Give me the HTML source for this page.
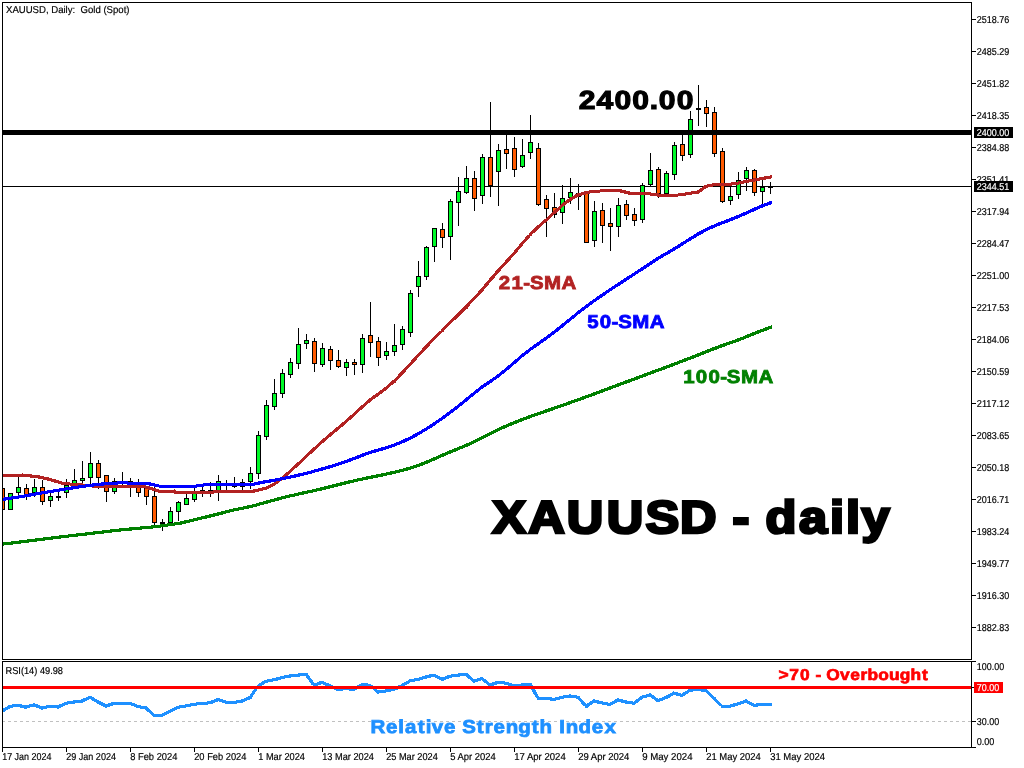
<!DOCTYPE html>
<html lang="en"><head><meta charset="utf-8"><title>XAUUSD, Daily: Gold (Spot)</title>
<style>
html,body{margin:0;padding:0;background:#fff;}
body{width:1024px;height:768px;overflow:hidden;position:relative;font-family:"Liberation Sans",sans-serif;}
svg{position:absolute;left:0;top:0;display:block;}
.ax{font-family:"Liberation Sans",sans-serif;font-size:10px;stroke-width:0.18px;text-rendering:geometricPrecision;}
</style></head><body>
<svg width="1024" height="768" viewBox="0 0 1024 768">
<rect x="0" y="0" width="1024" height="768" fill="#fff"/>
<defs><clipPath id="cm"><rect x="3" y="3" width="968" height="656"/></clipPath><clipPath id="cr"><rect x="3" y="662" width="968" height="85"/></clipPath></defs>
<rect x="3" y="186" width="968" height="1" fill="#000" shape-rendering="crispEdges"/>
<g shape-rendering="crispEdges" clip-path="url(#cm)">
<rect x="2" y="488" width="1" height="22" fill="#000"/>
<rect x="0" y="488" width="5" height="22" fill="#000"/>
<rect x="1" y="489" width="3" height="20" fill="#ff5a00"/>
<rect x="10" y="493" width="1" height="17" fill="#000"/>
<rect x="8" y="493" width="5" height="17" fill="#000"/>
<rect x="9" y="494" width="3" height="15" fill="#00fa28"/>
<rect x="18" y="477" width="1" height="18" fill="#000"/>
<rect x="16" y="487" width="5" height="6" fill="#000"/>
<rect x="17" y="488" width="3" height="4" fill="#00fa28"/>
<rect x="26" y="484" width="1" height="16" fill="#000"/>
<rect x="24" y="488" width="5" height="8" fill="#000"/>
<rect x="25" y="489" width="3" height="6" fill="#ff5a00"/>
<rect x="34" y="479" width="1" height="18" fill="#000"/>
<rect x="32" y="487" width="5" height="6" fill="#000"/>
<rect x="33" y="488" width="3" height="4" fill="#00fa28"/>
<rect x="42" y="480" width="1" height="25" fill="#000"/>
<rect x="40" y="487" width="5" height="15" fill="#000"/>
<rect x="41" y="488" width="3" height="13" fill="#ff5a00"/>
<rect x="50" y="492" width="1" height="15" fill="#000"/>
<rect x="48" y="496" width="5" height="5" fill="#000"/>
<rect x="49" y="497" width="3" height="3" fill="#00fa28"/>
<rect x="58" y="491" width="1" height="10" fill="#000"/>
<rect x="56" y="496" width="5" height="2" fill="#000"/>
<rect x="66" y="479" width="1" height="19" fill="#000"/>
<rect x="64" y="485" width="5" height="8" fill="#000"/>
<rect x="65" y="486" width="3" height="6" fill="#00fa28"/>
<rect x="74" y="469" width="1" height="17" fill="#000"/>
<rect x="72" y="480" width="5" height="6" fill="#000"/>
<rect x="73" y="481" width="3" height="4" fill="#00fa28"/>
<rect x="82" y="461" width="1" height="24" fill="#000"/>
<rect x="80" y="478" width="5" height="3" fill="#000"/>
<rect x="81" y="479" width="3" height="1" fill="#00fa28"/>
<rect x="90" y="452" width="1" height="32" fill="#000"/>
<rect x="88" y="463" width="5" height="15" fill="#000"/>
<rect x="89" y="464" width="3" height="13" fill="#00fa28"/>
<rect x="98" y="460" width="1" height="29" fill="#000"/>
<rect x="96" y="463" width="5" height="15" fill="#000"/>
<rect x="97" y="464" width="3" height="13" fill="#ff5a00"/>
<rect x="106" y="475" width="1" height="27" fill="#000"/>
<rect x="104" y="475" width="5" height="17" fill="#000"/>
<rect x="105" y="476" width="3" height="15" fill="#ff5a00"/>
<rect x="114" y="478" width="1" height="16" fill="#000"/>
<rect x="112" y="481" width="5" height="11" fill="#000"/>
<rect x="113" y="482" width="3" height="9" fill="#00fa28"/>
<rect x="122" y="472" width="1" height="15" fill="#000"/>
<rect x="120" y="482" width="5" height="2" fill="#000"/>
<rect x="130" y="478" width="1" height="19" fill="#000"/>
<rect x="128" y="481" width="5" height="3" fill="#000"/>
<rect x="129" y="482" width="3" height="1" fill="#ff5a00"/>
<rect x="138" y="479" width="1" height="18" fill="#000"/>
<rect x="136" y="485" width="5" height="8" fill="#000"/>
<rect x="137" y="486" width="3" height="6" fill="#ff5a00"/>
<rect x="146" y="486" width="1" height="19" fill="#000"/>
<rect x="144" y="488" width="5" height="9" fill="#000"/>
<rect x="145" y="489" width="3" height="7" fill="#ff5a00"/>
<rect x="154" y="487" width="1" height="38" fill="#000"/>
<rect x="152" y="496" width="5" height="27" fill="#000"/>
<rect x="153" y="497" width="3" height="25" fill="#ff5a00"/>
<rect x="162" y="519" width="1" height="12" fill="#000"/>
<rect x="160" y="522" width="5" height="2" fill="#000"/>
<rect x="170" y="507" width="1" height="16" fill="#000"/>
<rect x="168" y="511" width="5" height="12" fill="#000"/>
<rect x="169" y="512" width="3" height="10" fill="#00fa28"/>
<rect x="178" y="501" width="1" height="20" fill="#000"/>
<rect x="176" y="502" width="5" height="10" fill="#000"/>
<rect x="177" y="503" width="3" height="8" fill="#00fa28"/>
<rect x="186" y="494" width="1" height="11" fill="#000"/>
<rect x="184" y="498" width="5" height="7" fill="#000"/>
<rect x="185" y="499" width="3" height="5" fill="#00fa28"/>
<rect x="194" y="488" width="1" height="14" fill="#000"/>
<rect x="192" y="493" width="5" height="7" fill="#000"/>
<rect x="193" y="494" width="3" height="5" fill="#00fa28"/>
<rect x="202" y="487" width="1" height="10" fill="#000"/>
<rect x="200" y="490" width="5" height="2" fill="#000"/>
<rect x="210" y="482" width="1" height="15" fill="#000"/>
<rect x="208" y="490" width="5" height="2" fill="#000"/>
<rect x="218" y="475" width="1" height="26" fill="#000"/>
<rect x="216" y="481" width="5" height="10" fill="#000"/>
<rect x="217" y="482" width="3" height="8" fill="#00fa28"/>
<rect x="226" y="480" width="1" height="10" fill="#000"/>
<rect x="224" y="484" width="5" height="2" fill="#000"/>
<rect x="234" y="477" width="1" height="11" fill="#000"/>
<rect x="232" y="485" width="5" height="2" fill="#000"/>
<rect x="242" y="479" width="1" height="11" fill="#000"/>
<rect x="240" y="482" width="5" height="5" fill="#000"/>
<rect x="241" y="483" width="3" height="3" fill="#00fa28"/>
<rect x="250" y="467" width="1" height="22" fill="#000"/>
<rect x="248" y="473" width="5" height="9" fill="#000"/>
<rect x="249" y="474" width="3" height="7" fill="#00fa28"/>
<rect x="258" y="431" width="1" height="48" fill="#000"/>
<rect x="256" y="435" width="5" height="39" fill="#000"/>
<rect x="257" y="436" width="3" height="37" fill="#00fa28"/>
<rect x="266" y="400" width="1" height="40" fill="#000"/>
<rect x="264" y="405" width="5" height="32" fill="#000"/>
<rect x="265" y="406" width="3" height="30" fill="#00fa28"/>
<rect x="274" y="379" width="1" height="31" fill="#000"/>
<rect x="272" y="393" width="5" height="14" fill="#000"/>
<rect x="273" y="394" width="3" height="12" fill="#00fa28"/>
<rect x="282" y="369" width="1" height="29" fill="#000"/>
<rect x="280" y="373" width="5" height="21" fill="#000"/>
<rect x="281" y="374" width="3" height="19" fill="#00fa28"/>
<rect x="290" y="358" width="1" height="20" fill="#000"/>
<rect x="288" y="362" width="5" height="13" fill="#000"/>
<rect x="289" y="363" width="3" height="11" fill="#00fa28"/>
<rect x="298" y="328" width="1" height="41" fill="#000"/>
<rect x="296" y="344" width="5" height="20" fill="#000"/>
<rect x="297" y="345" width="3" height="18" fill="#00fa28"/>
<rect x="306" y="334" width="1" height="15" fill="#000"/>
<rect x="304" y="340" width="5" height="4" fill="#000"/>
<rect x="305" y="341" width="3" height="2" fill="#00fa28"/>
<rect x="314" y="338" width="1" height="34" fill="#000"/>
<rect x="312" y="341" width="5" height="23" fill="#000"/>
<rect x="313" y="342" width="3" height="21" fill="#ff5a00"/>
<rect x="322" y="343" width="1" height="24" fill="#000"/>
<rect x="320" y="348" width="5" height="17" fill="#000"/>
<rect x="321" y="349" width="3" height="15" fill="#00fa28"/>
<rect x="330" y="346" width="1" height="24" fill="#000"/>
<rect x="328" y="349" width="5" height="12" fill="#000"/>
<rect x="329" y="350" width="3" height="10" fill="#ff5a00"/>
<rect x="338" y="350" width="1" height="18" fill="#000"/>
<rect x="336" y="360" width="5" height="7" fill="#000"/>
<rect x="337" y="361" width="3" height="5" fill="#ff5a00"/>
<rect x="346" y="359" width="1" height="17" fill="#000"/>
<rect x="344" y="362" width="5" height="6" fill="#000"/>
<rect x="345" y="363" width="3" height="4" fill="#00fa28"/>
<rect x="354" y="359" width="1" height="16" fill="#000"/>
<rect x="352" y="362" width="5" height="3" fill="#000"/>
<rect x="353" y="363" width="3" height="1" fill="#ff5a00"/>
<rect x="362" y="334" width="1" height="39" fill="#000"/>
<rect x="360" y="338" width="5" height="27" fill="#000"/>
<rect x="361" y="339" width="3" height="25" fill="#00fa28"/>
<rect x="370" y="302" width="1" height="55" fill="#000"/>
<rect x="368" y="335" width="5" height="8" fill="#000"/>
<rect x="369" y="336" width="3" height="6" fill="#ff5a00"/>
<rect x="378" y="337" width="1" height="29" fill="#000"/>
<rect x="376" y="341" width="5" height="17" fill="#000"/>
<rect x="377" y="342" width="3" height="15" fill="#ff5a00"/>
<rect x="386" y="342" width="1" height="18" fill="#000"/>
<rect x="384" y="351" width="5" height="5" fill="#000"/>
<rect x="385" y="352" width="3" height="3" fill="#00fa28"/>
<rect x="394" y="324" width="1" height="32" fill="#000"/>
<rect x="392" y="345" width="5" height="7" fill="#000"/>
<rect x="393" y="346" width="3" height="5" fill="#00fa28"/>
<rect x="402" y="326" width="1" height="24" fill="#000"/>
<rect x="400" y="329" width="5" height="16" fill="#000"/>
<rect x="401" y="330" width="3" height="14" fill="#00fa28"/>
<rect x="410" y="290" width="1" height="47" fill="#000"/>
<rect x="408" y="293" width="5" height="40" fill="#000"/>
<rect x="409" y="294" width="3" height="38" fill="#00fa28"/>
<rect x="418" y="261" width="1" height="36" fill="#000"/>
<rect x="416" y="276" width="5" height="11" fill="#000"/>
<rect x="417" y="277" width="3" height="9" fill="#00fa28"/>
<rect x="426" y="246" width="1" height="34" fill="#000"/>
<rect x="424" y="247" width="5" height="30" fill="#000"/>
<rect x="425" y="248" width="3" height="28" fill="#00fa28"/>
<rect x="434" y="228" width="1" height="34" fill="#000"/>
<rect x="432" y="228" width="5" height="19" fill="#000"/>
<rect x="433" y="229" width="3" height="17" fill="#00fa28"/>
<rect x="442" y="223" width="1" height="25" fill="#000"/>
<rect x="440" y="229" width="5" height="9" fill="#000"/>
<rect x="441" y="230" width="3" height="7" fill="#ff5a00"/>
<rect x="450" y="199" width="1" height="61" fill="#000"/>
<rect x="448" y="201" width="5" height="36" fill="#000"/>
<rect x="449" y="202" width="3" height="34" fill="#00fa28"/>
<rect x="458" y="177" width="1" height="49" fill="#000"/>
<rect x="456" y="191" width="5" height="12" fill="#000"/>
<rect x="457" y="192" width="3" height="10" fill="#00fa28"/>
<rect x="466" y="166" width="1" height="28" fill="#000"/>
<rect x="464" y="178" width="5" height="15" fill="#000"/>
<rect x="465" y="179" width="3" height="13" fill="#00fa28"/>
<rect x="474" y="171" width="1" height="40" fill="#000"/>
<rect x="472" y="178" width="5" height="21" fill="#000"/>
<rect x="473" y="179" width="3" height="19" fill="#ff5a00"/>
<rect x="482" y="154" width="1" height="50" fill="#000"/>
<rect x="480" y="157" width="5" height="39" fill="#000"/>
<rect x="481" y="158" width="3" height="37" fill="#00fa28"/>
<rect x="490" y="102" width="1" height="95" fill="#000"/>
<rect x="488" y="157" width="5" height="29" fill="#000"/>
<rect x="489" y="158" width="3" height="27" fill="#ff5a00"/>
<rect x="498" y="144" width="1" height="62" fill="#000"/>
<rect x="496" y="150" width="5" height="22" fill="#000"/>
<rect x="497" y="151" width="3" height="20" fill="#00fa28"/>
<rect x="506" y="131" width="1" height="38" fill="#000"/>
<rect x="504" y="149" width="5" height="5" fill="#000"/>
<rect x="505" y="150" width="3" height="3" fill="#ff5a00"/>
<rect x="514" y="137" width="1" height="40" fill="#000"/>
<rect x="512" y="148" width="5" height="22" fill="#000"/>
<rect x="513" y="149" width="3" height="20" fill="#ff5a00"/>
<rect x="522" y="139" width="1" height="29" fill="#000"/>
<rect x="520" y="155" width="5" height="12" fill="#000"/>
<rect x="521" y="156" width="3" height="10" fill="#00fa28"/>
<rect x="530" y="115" width="1" height="44" fill="#000"/>
<rect x="528" y="142" width="5" height="11" fill="#000"/>
<rect x="529" y="143" width="3" height="9" fill="#00fa28"/>
<rect x="538" y="143" width="1" height="63" fill="#000"/>
<rect x="536" y="148" width="5" height="57" fill="#000"/>
<rect x="537" y="149" width="3" height="55" fill="#ff5a00"/>
<rect x="546" y="195" width="1" height="42" fill="#000"/>
<rect x="544" y="199" width="5" height="10" fill="#000"/>
<rect x="545" y="200" width="3" height="8" fill="#ff5a00"/>
<rect x="554" y="193" width="1" height="25" fill="#000"/>
<rect x="552" y="207" width="5" height="8" fill="#000"/>
<rect x="553" y="208" width="3" height="6" fill="#ff5a00"/>
<rect x="562" y="185" width="1" height="39" fill="#000"/>
<rect x="560" y="198" width="5" height="15" fill="#000"/>
<rect x="561" y="199" width="3" height="13" fill="#00fa28"/>
<rect x="570" y="178" width="1" height="26" fill="#000"/>
<rect x="568" y="192" width="5" height="6" fill="#000"/>
<rect x="569" y="193" width="3" height="4" fill="#00fa28"/>
<rect x="578" y="184" width="1" height="26" fill="#000"/>
<rect x="576" y="193" width="5" height="4" fill="#000"/>
<rect x="577" y="194" width="3" height="2" fill="#ff5a00"/>
<rect x="586" y="192" width="1" height="51" fill="#000"/>
<rect x="584" y="192" width="5" height="51" fill="#000"/>
<rect x="585" y="193" width="3" height="49" fill="#ff5a00"/>
<rect x="594" y="201" width="1" height="46" fill="#000"/>
<rect x="592" y="211" width="5" height="30" fill="#000"/>
<rect x="593" y="212" width="3" height="28" fill="#00fa28"/>
<rect x="602" y="203" width="1" height="40" fill="#000"/>
<rect x="600" y="210" width="5" height="16" fill="#000"/>
<rect x="601" y="211" width="3" height="14" fill="#ff5a00"/>
<rect x="610" y="208" width="1" height="43" fill="#000"/>
<rect x="608" y="223" width="5" height="4" fill="#000"/>
<rect x="609" y="224" width="3" height="2" fill="#ff5a00"/>
<rect x="618" y="198" width="1" height="39" fill="#000"/>
<rect x="616" y="205" width="5" height="22" fill="#000"/>
<rect x="617" y="206" width="3" height="20" fill="#00fa28"/>
<rect x="626" y="200" width="1" height="20" fill="#000"/>
<rect x="624" y="204" width="5" height="12" fill="#000"/>
<rect x="625" y="205" width="3" height="10" fill="#ff5a00"/>
<rect x="634" y="208" width="1" height="18" fill="#000"/>
<rect x="632" y="214" width="5" height="7" fill="#000"/>
<rect x="633" y="215" width="3" height="5" fill="#ff5a00"/>
<rect x="642" y="183" width="1" height="40" fill="#000"/>
<rect x="640" y="185" width="5" height="35" fill="#000"/>
<rect x="641" y="186" width="3" height="33" fill="#00fa28"/>
<rect x="650" y="153" width="1" height="33" fill="#000"/>
<rect x="648" y="170" width="5" height="15" fill="#000"/>
<rect x="649" y="171" width="3" height="13" fill="#00fa28"/>
<rect x="658" y="167" width="1" height="31" fill="#000"/>
<rect x="656" y="169" width="5" height="25" fill="#000"/>
<rect x="657" y="170" width="3" height="23" fill="#ff5a00"/>
<rect x="666" y="171" width="1" height="23" fill="#000"/>
<rect x="664" y="173" width="5" height="21" fill="#000"/>
<rect x="665" y="174" width="3" height="19" fill="#00fa28"/>
<rect x="674" y="142" width="1" height="38" fill="#000"/>
<rect x="672" y="145" width="5" height="30" fill="#000"/>
<rect x="673" y="146" width="3" height="28" fill="#00fa28"/>
<rect x="682" y="131" width="1" height="30" fill="#000"/>
<rect x="680" y="144" width="5" height="12" fill="#000"/>
<rect x="681" y="145" width="3" height="10" fill="#ff5a00"/>
<rect x="690" y="111" width="1" height="47" fill="#000"/>
<rect x="688" y="119" width="5" height="36" fill="#000"/>
<rect x="689" y="120" width="3" height="34" fill="#00fa28"/>
<rect x="698" y="85" width="1" height="41" fill="#000"/>
<rect x="696" y="108" width="5" height="2" fill="#000"/>
<rect x="706" y="100" width="1" height="27" fill="#000"/>
<rect x="704" y="107" width="5" height="7" fill="#000"/>
<rect x="705" y="108" width="3" height="5" fill="#ff5a00"/>
<rect x="714" y="107" width="1" height="50" fill="#000"/>
<rect x="712" y="112" width="5" height="42" fill="#000"/>
<rect x="713" y="113" width="3" height="40" fill="#ff5a00"/>
<rect x="722" y="148" width="1" height="55" fill="#000"/>
<rect x="720" y="151" width="5" height="51" fill="#000"/>
<rect x="721" y="152" width="3" height="49" fill="#ff5a00"/>
<rect x="730" y="185" width="1" height="20" fill="#000"/>
<rect x="728" y="196" width="5" height="5" fill="#000"/>
<rect x="729" y="197" width="3" height="3" fill="#00fa28"/>
<rect x="738" y="172" width="1" height="27" fill="#000"/>
<rect x="736" y="180" width="5" height="15" fill="#000"/>
<rect x="737" y="181" width="3" height="13" fill="#00fa28"/>
<rect x="746" y="167" width="1" height="24" fill="#000"/>
<rect x="744" y="170" width="5" height="9" fill="#000"/>
<rect x="745" y="171" width="3" height="7" fill="#00fa28"/>
<rect x="754" y="169" width="1" height="27" fill="#000"/>
<rect x="752" y="170" width="5" height="23" fill="#000"/>
<rect x="753" y="171" width="3" height="21" fill="#ff5a00"/>
<rect x="762" y="180" width="1" height="25" fill="#000"/>
<rect x="760" y="187" width="5" height="5" fill="#000"/>
<rect x="761" y="188" width="3" height="3" fill="#00fa28"/>
<rect x="770" y="182" width="1" height="12" fill="#000"/>
<rect x="768" y="186" width="5" height="2" fill="#000"/>
</g>
<path d="M3.0,473.5L22.0,473.5L22.0,476.5L3.0,476.5ZM22.0,473.4L30.0,474.3L30.0,477.5L22.0,476.6ZM30.0,474.3L39.0,475.4L39.0,478.6L30.0,477.5ZM39.0,475.4L47.0,477.1L47.0,480.3L39.0,478.6ZM47.0,477.0L55.0,479.3L55.0,482.7L47.0,480.4ZM55.0,479.3L62.5,481.5L62.5,484.9L55.0,482.7ZM62.5,481.6L68.0,482.3L68.0,485.5L62.5,484.8ZM68.0,482.4L78.0,483.1L78.0,486.1L68.0,485.4ZM78.0,483.0L95.0,484.6L95.0,487.8L78.0,486.2ZM95.0,484.7L120.0,484.8L120.0,487.8L95.0,487.7ZM120.0,484.8L143.5,484.8L143.5,487.8L120.0,487.8ZM143.5,484.6L159.0,489.3L159.0,492.7L143.5,488.0ZM159.0,489.5L174.0,489.5L174.0,492.5L159.0,492.5ZM174.0,488.9L175.5,490.2L175.5,494.4L174.0,493.1ZM175.5,490.8L212.0,490.8L212.0,493.8L175.5,493.8ZM212.0,490.7L216.0,489.9L216.0,493.1L212.0,493.9ZM216.0,490.0L232.0,489.9L232.0,492.9L216.0,493.0ZM232.0,489.9L252.0,489.9L252.0,492.9L232.0,492.9ZM252.0,489.8L258.0,488.4L258.0,491.7L252.0,493.1ZM258.0,488.4L266.0,486.5L266.0,489.8L258.0,491.7ZM266.0,486.3L274.0,482.3L274.0,485.9L266.0,490.0ZM274.0,482.1L282.0,476.3L282.0,480.3L274.0,486.1ZM282.0,476.2L290.0,469.4L290.0,473.5L282.0,480.4ZM290.0,469.4L298.0,462.0L298.0,466.2L290.0,473.5ZM298.0,462.0L306.0,454.5L306.0,458.7L298.0,466.2ZM306.0,454.5L314.0,447.0L314.0,451.2L306.0,458.7ZM314.0,447.0L322.0,439.8L322.0,443.9L314.0,451.2ZM322.0,439.8L330.0,432.9L330.0,437.0L322.0,443.9ZM330.0,432.9L338.0,426.2L338.0,430.3L330.0,437.0ZM338.0,426.2L346.0,419.5L346.0,423.6L338.0,430.3ZM346.0,419.5L354.0,412.4L354.0,416.5L346.0,423.6ZM354.0,412.4L362.0,404.9L362.0,409.1L354.0,416.6ZM362.0,405.0L370.0,398.0L370.0,402.1L362.0,409.1ZM370.0,398.1L378.0,392.2L378.0,396.2L370.0,402.1ZM378.0,392.2L386.0,386.3L386.0,390.2L378.0,396.2ZM386.0,386.2L394.0,379.1L394.0,383.3L386.0,390.3ZM391.9,381.2L399.9,373.1L404.1,373.1L396.1,381.2ZM399.9,373.1L407.9,364.4L412.1,364.4L404.1,373.1ZM407.9,364.4L415.9,355.6L420.1,355.6L412.1,364.4ZM415.9,355.6L423.9,347.0L428.1,347.0L420.1,355.6ZM423.9,347.0L431.9,338.7L436.1,338.7L428.1,347.0ZM431.9,338.7L439.9,330.7L444.1,330.7L436.1,338.7ZM442.0,328.5L450.0,320.6L450.0,324.9L442.0,332.8ZM450.0,320.6L458.0,312.8L458.0,317.1L450.0,324.9ZM458.0,312.8L466.0,304.8L466.0,309.1L458.0,317.1ZM463.9,307.0L471.9,298.7L476.1,298.7L468.1,307.0ZM471.9,298.7L479.9,289.9L484.1,289.9L476.1,298.7ZM479.9,289.9L487.9,280.4L492.1,280.4L484.1,289.9ZM487.9,280.4L495.9,271.0L500.1,271.0L492.1,280.4ZM495.9,271.0L503.9,262.2L508.1,262.2L500.1,271.0ZM503.9,262.2L511.9,253.3L516.1,253.3L508.1,262.2ZM512.0,253.3L520.0,243.8L524.0,243.8L516.0,253.3ZM519.9,243.8L527.9,234.7L532.1,234.7L524.1,243.8ZM530.0,232.6L538.0,225.0L538.0,229.2L530.0,236.8ZM538.0,225.1L546.0,218.1L546.0,222.2L538.0,229.2ZM546.0,218.0L554.0,210.7L554.0,214.9L546.0,222.2ZM554.0,210.7L562.0,203.6L562.0,207.7L554.0,214.9ZM562.0,203.6L570.0,197.5L570.0,201.5L562.0,207.6ZM570.0,197.6L578.0,193.1L578.0,196.9L570.0,201.4ZM578.0,193.3L584.0,191.6L584.0,194.9L578.0,196.7ZM584.0,191.6L592.0,189.9L592.0,193.1L584.0,194.9ZM592.0,190.0L608.0,189.0L608.0,192.0L592.0,193.0ZM608.0,189.0L620.0,189.2L620.0,192.3L608.0,192.0ZM620.0,189.1L630.0,191.6L630.0,194.9L620.0,192.4ZM630.0,191.7L650.0,192.5L650.0,195.5L630.0,194.8ZM650.0,192.4L664.0,194.2L664.0,197.3L650.0,195.6ZM664.0,194.2L672.0,194.2L672.0,197.2L664.0,197.2ZM672.0,194.2L684.0,192.7L684.0,195.8L672.0,197.3ZM684.0,192.6L698.0,190.4L698.0,193.6L684.0,195.9ZM698.0,190.0L706.0,184.4L706.0,188.4L698.0,194.0ZM706.0,184.8L714.0,183.1L714.0,186.4L706.0,188.0ZM714.0,183.2L734.0,182.4L734.0,185.4L714.0,186.3ZM734.0,182.3L746.0,179.8L746.0,183.0L734.0,185.5ZM746.0,179.8L758.0,177.6L758.0,180.9L746.0,183.0ZM758.0,177.6L772.0,175.1L772.0,178.3L758.0,180.9ZM392.5,379.7L395.5,379.7L395.5,382.7L392.5,382.7ZM440.5,329.2L443.5,329.2L443.5,332.2L440.5,332.2ZM464.5,305.5L467.5,305.5L467.5,308.5L464.5,308.5ZM528.5,233.2L531.5,233.2L531.5,236.2L528.5,236.2Z" fill="#b22222" fill-rule="nonzero" shape-rendering="crispEdges" />
<path d="M3.0,497.7L20.0,495.2L20.0,498.4L3.0,500.9ZM20.0,495.2L40.0,491.6L40.0,494.8L20.0,498.4ZM40.0,491.6L64.0,487.6L64.0,490.8L40.0,494.8ZM64.0,487.6L90.0,483.7L90.0,486.9L64.0,490.8ZM90.0,483.7L100.0,482.6L100.0,485.8L90.0,486.9ZM100.0,482.6L110.8,481.7L110.8,484.9L100.0,485.8ZM110.8,481.8L117.0,481.8L117.0,484.8L110.8,484.8ZM117.0,481.5L119.0,480.7L119.0,484.2L117.0,485.1ZM119.0,480.9L126.5,480.9L126.5,483.9L119.0,483.9ZM126.5,480.7L128.5,481.6L128.5,485.1L126.5,484.2ZM128.5,481.9L147.0,481.9L147.0,484.9L128.5,484.9ZM147.0,481.7L159.0,484.4L159.0,487.6L147.0,485.0ZM159.0,484.5L196.0,484.5L196.0,487.5L159.0,487.5ZM196.0,484.4L207.0,482.9L207.0,486.1L196.0,487.6ZM207.0,483.0L232.0,483.0L232.0,486.0L207.0,486.0ZM232.0,483.0L254.0,482.5L254.0,485.6L232.0,486.0ZM254.0,482.4L266.0,480.0L266.0,483.3L254.0,485.7ZM266.0,480.1L274.0,478.7L274.0,481.9L266.0,483.3ZM274.0,478.7L282.0,477.2L282.0,480.4L274.0,482.0ZM282.0,477.2L290.0,475.5L290.0,478.8L282.0,480.4ZM290.0,475.5L298.0,473.7L298.0,477.0L290.0,478.8ZM298.0,473.6L306.0,471.7L306.0,475.0L298.0,477.0ZM306.0,471.7L314.0,469.6L314.0,472.9L306.0,475.0ZM314.0,469.6L322.0,467.3L322.0,470.7L314.0,472.9ZM322.0,467.3L330.0,465.0L330.0,468.4L322.0,470.7ZM330.0,465.0L338.0,462.5L338.0,465.9L330.0,468.4ZM338.0,462.5L346.0,459.8L346.0,463.2L338.0,465.9ZM346.0,459.7L354.0,456.8L354.0,460.3L346.0,463.2ZM354.0,456.8L362.0,453.6L362.0,457.2L354.0,460.3ZM362.0,453.7L370.0,450.7L370.0,454.2L362.0,457.1ZM370.0,450.8L378.0,448.4L378.0,451.8L370.0,454.2ZM378.0,448.4L386.0,446.2L386.0,449.5L378.0,451.8ZM386.0,446.1L394.0,443.4L394.0,446.9L386.0,449.6ZM394.0,443.4L402.0,440.2L402.0,443.7L394.0,446.9ZM402.0,440.1L410.0,436.4L410.0,440.0L402.0,443.7ZM410.0,436.3L418.0,432.1L418.0,435.8L410.0,440.0ZM418.0,432.0L426.0,427.3L426.0,431.0L418.0,435.8ZM426.0,427.2L434.0,422.1L434.0,425.9L426.0,431.1ZM434.0,422.0L442.0,416.5L442.0,420.4L434.0,425.9ZM442.0,416.4L450.0,410.6L450.0,414.5L442.0,420.4ZM450.0,410.5L458.0,404.4L458.0,408.4L450.0,414.5ZM458.0,404.4L466.0,397.9L466.0,402.0L458.0,408.4ZM466.0,397.9L474.0,391.3L474.0,395.4L466.0,402.0ZM474.0,391.3L482.0,385.1L482.0,389.1L474.0,395.3ZM482.0,385.1L490.0,379.7L490.0,383.5L482.0,389.0ZM490.0,379.7L498.0,374.1L498.0,378.0L490.0,383.6ZM498.0,374.1L506.0,367.7L506.0,371.7L498.0,378.1ZM506.0,367.6L514.0,360.7L514.0,364.8L506.0,371.7ZM514.0,360.7L522.0,353.9L522.0,358.0L514.0,364.8ZM522.0,353.9L530.0,347.6L530.0,351.6L522.0,357.9ZM530.0,347.6L538.0,341.9L538.0,345.9L530.0,351.5ZM538.0,341.9L546.0,336.4L546.0,340.3L538.0,345.9ZM546.0,336.4L554.0,330.3L554.0,334.3L546.0,340.3ZM554.0,330.3L562.0,323.9L562.0,328.0L554.0,334.3ZM562.0,323.9L570.0,317.4L570.0,321.4L562.0,328.0ZM570.0,317.4L578.0,310.9L578.0,315.0L570.0,321.4ZM578.0,310.9L586.0,304.8L586.0,308.8L578.0,314.9ZM586.0,304.8L594.0,298.9L594.0,302.9L586.0,308.7ZM594.0,298.9L602.0,293.3L602.0,297.2L594.0,302.8ZM602.0,293.3L610.0,287.9L610.0,291.8L602.0,297.2ZM610.0,287.9L618.0,282.6L618.0,286.5L610.0,291.7ZM618.0,282.6L626.0,277.4L626.0,281.3L618.0,286.5ZM626.0,277.4L634.0,272.3L634.0,276.1L626.0,281.3ZM634.0,272.2L642.0,267.0L642.0,270.8L634.0,276.1ZM642.0,267.0L650.0,261.7L650.0,265.5L642.0,270.9ZM650.0,261.7L658.0,256.5L658.0,260.4L650.0,265.5ZM658.0,256.6L666.0,251.8L666.0,255.6L658.0,260.3ZM666.0,251.8L674.0,247.2L674.0,250.9L666.0,255.6ZM674.0,247.1L682.0,242.2L682.0,246.0L674.0,250.9ZM682.0,242.2L690.0,237.1L690.0,240.9L682.0,246.0ZM690.0,237.1L698.0,232.2L698.0,236.0L690.0,240.9ZM698.0,232.3L706.0,227.9L706.0,231.6L698.0,236.0ZM706.0,227.9L714.0,224.3L714.0,227.9L706.0,231.5ZM714.0,224.3L722.0,221.1L722.0,224.6L714.0,227.8ZM722.0,221.1L730.0,218.1L730.0,221.6L722.0,224.6ZM730.0,218.1L738.0,214.9L738.0,218.4L730.0,221.6ZM738.0,214.9L746.0,211.3L746.0,214.9L738.0,218.4ZM746.0,211.3L754.0,207.7L754.0,211.3L746.0,214.9ZM754.0,207.7L762.0,204.2L762.0,207.8L754.0,211.2ZM762.0,204.3L770.0,201.3L770.0,204.8L762.0,207.7ZM770.0,201.4L772.0,200.8L772.0,204.2L770.0,204.8Z" fill="#0000ff" fill-rule="nonzero" shape-rendering="crispEdges" />
<path d="M3.0,542.5L60.0,535.4L60.0,538.6L3.0,545.7ZM60.0,535.4L120.0,528.4L120.0,531.6L60.0,538.6ZM120.0,528.4L157.0,524.9L157.0,528.1L120.0,531.6ZM157.0,524.9L180.0,521.7L180.0,524.8L157.0,528.1ZM180.0,521.6L210.0,514.3L210.0,517.7L180.0,524.9ZM210.0,514.3L234.0,508.3L234.0,511.6L210.0,517.7ZM234.0,508.4L242.0,506.7L242.0,510.0L234.0,511.6ZM242.0,506.7L250.0,504.9L250.0,508.2L242.0,510.0ZM250.0,504.9L258.0,502.9L258.0,506.2L250.0,508.2ZM258.0,502.9L266.0,500.6L266.0,504.0L258.0,506.2ZM266.0,500.6L274.0,498.4L274.0,501.8L266.0,504.0ZM274.0,498.4L282.0,496.2L282.0,499.6L274.0,501.7ZM282.0,496.2L290.0,494.3L290.0,497.6L282.0,499.6ZM290.0,494.3L298.0,492.5L298.0,495.8L290.0,497.6ZM298.0,492.5L306.0,490.7L306.0,494.0L298.0,495.8ZM306.0,490.7L314.0,489.0L314.0,492.2L306.0,494.0ZM314.0,489.0L322.0,487.1L322.0,490.4L314.0,492.3ZM322.0,487.1L330.0,485.1L330.0,488.5L322.0,490.4ZM330.0,485.1L338.0,483.1L338.0,486.4L330.0,488.5ZM338.0,483.1L346.0,481.1L346.0,484.4L338.0,486.4ZM346.0,481.1L354.0,479.2L354.0,482.5L346.0,484.4ZM354.0,479.2L362.0,477.4L362.0,480.7L354.0,482.5ZM362.0,477.4L370.0,475.8L370.0,479.1L362.0,480.7ZM370.0,475.8L378.0,474.2L378.0,477.5L370.0,479.1ZM378.0,474.2L386.0,472.5L386.0,475.8L378.0,477.5ZM386.0,472.5L394.0,470.7L394.0,474.0L386.0,475.8ZM394.0,470.7L402.0,468.7L402.0,472.1L394.0,474.0ZM402.0,468.7L410.0,466.5L410.0,469.8L402.0,472.1ZM410.0,466.4L418.0,463.8L418.0,467.2L410.0,469.8ZM418.0,463.8L426.0,460.7L426.0,464.2L418.0,467.3ZM426.0,460.7L434.0,457.2L434.0,460.8L426.0,464.3ZM434.0,457.2L442.0,453.6L442.0,457.2L434.0,460.8ZM442.0,453.6L450.0,450.2L450.0,453.8L442.0,457.2ZM450.0,450.2L458.0,447.0L458.0,450.5L450.0,453.8ZM458.0,447.0L466.0,443.7L466.0,447.2L458.0,450.5ZM466.0,443.7L474.0,440.1L474.0,443.7L466.0,447.2ZM474.0,440.1L482.0,436.0L482.0,439.7L474.0,443.7ZM482.0,436.0L490.0,431.8L490.0,435.5L482.0,439.7ZM490.0,431.9L498.0,427.9L498.0,431.6L490.0,435.5ZM498.0,428.0L506.0,424.3L506.0,427.9L498.0,431.5ZM506.0,424.4L514.0,421.0L514.0,424.5L506.0,427.9ZM514.0,421.0L522.0,417.9L522.0,421.4L514.0,424.5ZM522.0,417.9L530.0,414.9L530.0,418.4L522.0,421.4ZM530.0,414.9L538.0,412.0L538.0,415.5L530.0,418.4ZM538.0,412.1L546.0,409.3L546.0,412.7L538.0,415.5ZM546.0,409.3L554.0,406.5L554.0,410.0L546.0,412.7ZM554.0,406.5L562.0,403.8L562.0,407.2L554.0,410.0ZM562.0,403.8L570.0,400.9L570.0,404.4L562.0,407.2ZM570.0,400.9L578.0,398.1L578.0,401.5L570.0,404.4ZM578.0,398.1L586.0,395.2L586.0,398.7L578.0,401.5ZM586.0,395.2L594.0,392.3L594.0,395.7L586.0,398.7ZM594.0,392.2L602.0,389.3L602.0,392.8L594.0,395.7ZM602.0,389.3L610.0,386.3L610.0,389.8L602.0,392.8ZM610.0,386.3L618.0,383.3L618.0,386.8L610.0,389.8ZM618.0,383.3L626.0,380.3L626.0,383.8L618.0,386.8ZM626.0,380.3L634.0,377.4L634.0,380.9L626.0,383.8ZM634.0,377.4L642.0,374.4L642.0,377.9L634.0,380.9ZM642.0,374.4L650.0,371.4L650.0,374.9L642.0,377.9ZM650.0,371.4L658.0,368.5L658.0,371.9L650.0,374.9ZM658.0,368.5L666.0,365.5L666.0,369.0L658.0,371.9ZM666.0,365.5L674.0,362.5L674.0,366.0L666.0,369.0ZM674.0,362.5L682.0,359.4L682.0,362.9L674.0,366.0ZM682.0,359.4L690.0,356.4L690.0,359.9L682.0,362.9ZM690.0,356.4L698.0,353.3L698.0,356.8L690.0,359.9ZM698.0,353.3L706.0,350.1L706.0,353.6L698.0,356.8ZM706.0,350.1L714.0,346.9L714.0,350.5L706.0,353.6ZM714.0,347.0L722.0,343.9L722.0,347.4L714.0,350.5ZM722.0,343.9L730.0,341.1L730.0,344.6L722.0,347.4ZM730.0,341.1L738.0,338.3L738.0,341.8L730.0,344.6ZM738.0,338.3L746.0,335.2L746.0,338.7L738.0,341.8ZM746.0,335.1L754.0,331.9L754.0,335.4L746.0,338.7ZM754.0,331.9L762.0,328.7L762.0,332.2L754.0,335.4ZM762.0,328.7L770.0,325.9L770.0,329.3L762.0,332.2ZM770.0,325.9L772.0,325.3L772.0,328.7L770.0,329.3Z" fill="#008000" fill-rule="nonzero" shape-rendering="crispEdges" />
<g shape-rendering="crispEdges">
<rect x="3" y="130" width="968" height="5" fill="#000"/>
</g>
<g shape-rendering="crispEdges">
<line x1="2" y1="721.5" x2="971" y2="721.5" stroke="#c0c0c0" stroke-width="1" stroke-dasharray="3 3"/>
</g>
<path d="M2.0,709.4L10.0,704.3L10.0,708.2L2.0,713.2ZM10.0,704.7L18.0,703.7L18.0,706.9L10.0,707.8ZM18.0,703.6L26.0,705.5L26.0,708.9L18.0,707.0ZM26.0,705.5L34.0,703.1L34.0,706.4L26.0,708.9ZM34.0,703.0L42.0,706.3L42.0,709.9L34.0,706.5ZM42.0,706.4L50.0,704.6L50.0,707.9L42.0,709.8ZM50.0,704.7L58.0,705.4L58.0,708.6L50.0,707.8ZM58.0,705.2L66.0,701.4L66.0,705.1L58.0,708.8ZM66.0,701.6L74.0,700.4L74.0,703.6L66.0,704.9ZM74.0,700.4L82.0,699.4L82.0,702.6L74.0,703.6ZM82.0,699.2L90.0,695.4L90.0,699.1L82.0,702.8ZM90.0,695.4L98.0,700.1L98.0,703.9L90.0,699.1ZM98.0,700.2L106.0,704.2L106.0,707.8L98.0,703.8ZM106.0,704.3L114.0,701.5L114.0,705.0L106.0,707.7ZM114.0,701.8L122.0,701.8L122.0,704.8L114.0,704.8ZM122.0,701.8L130.0,701.8L130.0,704.8L122.0,704.8ZM130.0,701.5L138.0,704.8L138.0,708.4L130.0,705.0ZM138.0,705.0L146.0,706.5L146.0,709.7L138.0,708.2ZM146.0,706.0L154.0,713.3L154.0,717.5L146.0,710.2ZM154.0,713.9L162.0,713.9L162.0,716.9L154.0,716.9ZM162.0,713.6L170.0,709.5L170.0,713.1L162.0,717.2ZM170.0,709.5L178.0,705.4L178.0,709.0L170.0,713.1ZM178.0,705.6L186.0,704.4L186.0,707.6L178.0,708.8ZM186.0,704.4L194.0,702.8L194.0,706.0L186.0,707.6ZM194.0,702.8L202.0,701.7L202.0,704.8L194.0,706.0ZM202.0,701.7L210.0,701.4L210.0,704.4L202.0,704.8ZM210.0,701.1L218.0,697.7L218.0,701.3L210.0,704.7ZM218.0,697.8L226.0,700.5L226.0,703.9L218.0,701.2ZM226.0,700.7L234.0,700.9L234.0,703.9L226.0,703.7ZM234.0,700.8L242.0,699.4L242.0,702.6L234.0,704.0ZM242.0,699.2L250.0,695.8L250.0,699.4L242.0,702.8ZM248.1,697.6L256.1,686.0L259.9,686.0L251.9,697.6ZM258.0,684.1L266.0,679.4L266.0,683.2L258.0,687.9ZM266.0,679.7L274.0,678.2L274.0,681.4L266.0,682.9ZM274.0,678.1L282.0,675.9L282.0,679.3L274.0,681.5ZM282.0,676.0L290.0,674.4L290.0,677.6L282.0,679.2ZM290.0,674.4L298.0,673.5L298.0,676.7L290.0,677.6ZM298.0,673.5L306.0,672.8L306.0,676.0L298.0,676.7ZM308.0,674.4L316.0,685.2L312.0,685.2L304.0,674.4ZM314.0,683.5L322.0,680.5L322.0,684.0L314.0,686.9ZM322.0,680.4L330.0,684.2L330.0,687.8L322.0,684.1ZM330.0,684.2L338.0,687.6L338.0,691.2L330.0,687.8ZM338.0,687.9L346.0,687.3L346.0,690.3L338.0,690.9ZM346.0,687.3L354.0,687.9L354.0,690.9L346.0,690.3ZM354.0,687.5L362.0,682.6L362.0,686.4L354.0,691.3ZM362.0,682.9L370.0,683.7L370.0,686.9L362.0,686.1ZM370.0,683.3L378.0,690.0L378.0,694.0L370.0,687.3ZM378.0,690.4L386.0,689.4L386.0,692.6L378.0,693.6ZM386.0,689.4L394.0,687.8L394.0,691.0L386.0,692.6ZM394.0,687.6L402.0,683.8L402.0,687.4L394.0,691.2ZM402.0,683.7L410.0,679.1L410.0,682.9L402.0,687.5ZM410.0,679.4L418.0,677.8L418.0,681.0L410.0,682.6ZM418.0,677.7L426.0,675.3L426.0,678.7L418.0,681.1ZM426.0,675.3L434.0,673.4L434.0,676.8L426.0,678.7ZM434.0,673.3L442.0,677.6L442.0,681.2L434.0,676.9ZM442.0,677.6L450.0,674.5L450.0,678.0L442.0,681.2ZM450.0,674.7L458.0,673.5L458.0,676.7L450.0,677.8ZM458.0,673.5L466.0,672.6L466.0,675.8L458.0,676.7ZM466.0,672.1L474.0,679.2L474.0,683.4L466.0,676.3ZM474.0,679.6L482.0,676.8L482.0,680.2L474.0,683.0ZM482.0,676.5L490.0,683.0L490.0,687.0L482.0,680.5ZM490.0,683.3L498.0,680.5L498.0,684.0L490.0,686.7ZM498.0,680.7L506.0,681.6L506.0,684.8L498.0,683.8ZM506.0,681.5L514.0,684.3L514.0,687.7L506.0,684.9ZM514.0,684.4L522.0,683.4L522.0,686.6L514.0,687.6ZM522.0,683.4L530.0,682.5L530.0,685.7L522.0,686.6ZM531.9,684.1L539.9,698.2L536.1,698.2L528.1,684.1ZM538.0,696.7L546.0,696.7L546.0,699.7L538.0,699.7ZM546.0,696.6L554.0,697.9L554.0,701.1L546.0,699.8ZM554.0,697.8L562.0,695.6L562.0,698.9L554.0,701.2ZM562.0,695.6L570.0,694.4L570.0,697.6L562.0,698.9ZM570.0,694.4L578.0,695.6L578.0,698.9L570.0,697.6ZM580.1,697.2L588.1,706.2L583.9,706.2L575.9,697.2ZM586.0,704.3L594.0,699.1L594.0,702.9L586.0,708.2ZM594.0,699.3L602.0,701.2L602.0,704.6L594.0,702.7ZM602.0,701.3L610.0,702.8L610.0,706.0L602.0,704.5ZM610.0,702.5L618.0,698.1L618.0,701.9L610.0,706.3ZM618.0,698.3L626.0,700.3L626.0,703.7L618.0,701.7ZM626.0,700.4L634.0,701.6L634.0,704.9L626.0,703.6ZM634.0,701.3L642.0,695.3L642.0,699.2L634.0,705.2ZM642.0,695.6L650.0,693.3L650.0,696.7L642.0,698.9ZM650.0,693.0L658.0,698.6L658.0,702.6L650.0,697.0ZM658.0,698.9L666.0,695.9L666.0,699.3L658.0,702.3ZM666.0,695.7L674.0,691.2L674.0,695.0L666.0,699.5ZM674.0,691.4L682.0,693.7L682.0,697.1L674.0,694.8ZM682.0,693.5L690.0,688.2L690.0,692.0L682.0,697.3ZM690.0,688.6L698.0,688.2L698.0,691.3L690.0,691.6ZM698.0,688.2L706.0,688.8L706.0,691.8L698.0,691.3ZM706.0,688.2L714.0,696.1L714.0,700.3L706.0,692.4ZM716.1,698.2L724.1,706.2L719.9,706.2L711.9,698.2ZM722.0,704.8L730.0,704.8L730.0,707.8L722.0,707.8ZM730.0,704.6L738.0,702.1L738.0,705.5L730.0,707.9ZM738.0,702.1L746.0,699.3L746.0,702.7L738.0,705.5ZM746.0,699.2L754.0,703.5L754.0,707.1L746.0,702.8ZM754.0,703.7L762.0,702.8L762.0,706.0L754.0,706.9ZM762.0,702.9L770.0,702.9L770.0,705.9L762.0,705.9ZM770.0,702.9L772.0,702.9L772.0,705.9L770.0,705.9ZM248.5,696.1L251.5,696.1L251.5,699.1L248.5,699.1ZM256.5,684.5L259.5,684.5L259.5,687.5L256.5,687.5ZM304.5,672.9L307.5,672.9L307.5,675.9L304.5,675.9ZM312.5,683.7L315.5,683.7L315.5,686.7L312.5,686.7ZM528.5,682.6L531.5,682.6L531.5,685.6L528.5,685.6ZM536.5,696.7L539.5,696.7L539.5,699.7L536.5,699.7ZM576.5,695.8L579.5,695.8L579.5,698.8L576.5,698.8ZM584.5,704.8L587.5,704.8L587.5,707.8L584.5,707.8ZM712.5,696.7L715.5,696.7L715.5,699.7L712.5,699.7ZM720.5,704.8L723.5,704.8L723.5,707.8L720.5,707.8Z" fill="#1e90ff" fill-rule="nonzero" shape-rendering="crispEdges" />
<g shape-rendering="crispEdges">
<rect x="3" y="686" width="968" height="3" fill="#ff0000"/>
</g>
<g shape-rendering="crispEdges" fill="#000">
<rect x="2" y="2" width="970" height="1"/>
<rect x="2" y="2" width="1" height="658"/>
<rect x="2" y="659" width="970" height="1"/>
<rect x="971" y="2" width="1" height="658"/>
<rect x="971" y="661" width="1" height="87"/>
<rect x="972" y="687" width="2" height="1"/>
<rect x="2" y="661" width="974" height="1"/>
<rect x="2" y="661" width="1" height="87"/>
<rect x="2" y="747" width="974" height="1"/>
<rect x="972" y="19" width="4" height="1"/>
<rect x="972" y="51" width="4" height="1"/>
<rect x="972" y="83" width="4" height="1"/>
<rect x="972" y="115" width="4" height="1"/>
<rect x="972" y="147" width="4" height="1"/>
<rect x="972" y="179" width="4" height="1"/>
<rect x="972" y="211" width="4" height="1"/>
<rect x="972" y="243" width="4" height="1"/>
<rect x="972" y="275" width="4" height="1"/>
<rect x="972" y="307" width="4" height="1"/>
<rect x="972" y="339" width="4" height="1"/>
<rect x="972" y="371" width="4" height="1"/>
<rect x="972" y="403" width="4" height="1"/>
<rect x="972" y="435" width="4" height="1"/>
<rect x="972" y="467" width="4" height="1"/>
<rect x="972" y="499" width="4" height="1"/>
<rect x="972" y="531" width="4" height="1"/>
<rect x="972" y="563" width="4" height="1"/>
<rect x="972" y="595" width="4" height="1"/>
<rect x="972" y="627" width="4" height="1"/>
<rect x="972" y="721" width="4" height="1"/>
<rect x="2" y="748" width="1" height="4"/>
<rect x="66" y="748" width="1" height="4"/>
<rect x="130" y="748" width="1" height="4"/>
<rect x="194" y="748" width="1" height="4"/>
<rect x="258" y="748" width="1" height="4"/>
<rect x="322" y="748" width="1" height="4"/>
<rect x="386" y="748" width="1" height="4"/>
<rect x="450" y="748" width="1" height="4"/>
<rect x="514" y="748" width="1" height="4"/>
<rect x="578" y="748" width="1" height="4"/>
<rect x="642" y="748" width="1" height="4"/>
<rect x="706" y="748" width="1" height="4"/>
<rect x="770" y="748" width="1" height="4"/>
</g>
<text class="ax" x="976.8" y="23" fill="#000" stroke="#000" textLength="32.5" lengthAdjust="spacingAndGlyphs" xml:space="preserve">2518.76</text>
<text class="ax" x="976.8" y="55" fill="#000" stroke="#000" textLength="32.5" lengthAdjust="spacingAndGlyphs" xml:space="preserve">2485.29</text>
<text class="ax" x="976.8" y="87" fill="#000" stroke="#000" textLength="32.5" lengthAdjust="spacingAndGlyphs" xml:space="preserve">2451.82</text>
<text class="ax" x="976.8" y="119" fill="#000" stroke="#000" textLength="32.5" lengthAdjust="spacingAndGlyphs" xml:space="preserve">2418.35</text>
<text class="ax" x="976.8" y="151" fill="#000" stroke="#000" textLength="32.5" lengthAdjust="spacingAndGlyphs" xml:space="preserve">2384.88</text>
<text class="ax" x="976.8" y="183" fill="#000" stroke="#000" textLength="32.5" lengthAdjust="spacingAndGlyphs" xml:space="preserve">2351.41</text>
<text class="ax" x="976.8" y="215" fill="#000" stroke="#000" textLength="32.5" lengthAdjust="spacingAndGlyphs" xml:space="preserve">2317.94</text>
<text class="ax" x="976.8" y="247" fill="#000" stroke="#000" textLength="32.5" lengthAdjust="spacingAndGlyphs" xml:space="preserve">2284.47</text>
<text class="ax" x="976.8" y="279" fill="#000" stroke="#000" textLength="32.5" lengthAdjust="spacingAndGlyphs" xml:space="preserve">2251.00</text>
<text class="ax" x="976.8" y="311" fill="#000" stroke="#000" textLength="32.5" lengthAdjust="spacingAndGlyphs" xml:space="preserve">2217.53</text>
<text class="ax" x="976.8" y="343" fill="#000" stroke="#000" textLength="32.5" lengthAdjust="spacingAndGlyphs" xml:space="preserve">2184.06</text>
<text class="ax" x="976.8" y="375" fill="#000" stroke="#000" textLength="32.5" lengthAdjust="spacingAndGlyphs" xml:space="preserve">2150.59</text>
<text class="ax" x="976.8" y="407" fill="#000" stroke="#000" textLength="32.5" lengthAdjust="spacingAndGlyphs" xml:space="preserve">2117.12</text>
<text class="ax" x="976.8" y="439" fill="#000" stroke="#000" textLength="32.5" lengthAdjust="spacingAndGlyphs" xml:space="preserve">2083.65</text>
<text class="ax" x="976.8" y="471" fill="#000" stroke="#000" textLength="32.5" lengthAdjust="spacingAndGlyphs" xml:space="preserve">2050.18</text>
<text class="ax" x="976.8" y="503" fill="#000" stroke="#000" textLength="32.5" lengthAdjust="spacingAndGlyphs" xml:space="preserve">2016.71</text>
<text class="ax" x="976.8" y="535" fill="#000" stroke="#000" textLength="32.5" lengthAdjust="spacingAndGlyphs" xml:space="preserve">1983.24</text>
<text class="ax" x="976.8" y="567" fill="#000" stroke="#000" textLength="32.5" lengthAdjust="spacingAndGlyphs" xml:space="preserve">1949.77</text>
<text class="ax" x="976.8" y="599" fill="#000" stroke="#000" textLength="32.5" lengthAdjust="spacingAndGlyphs" xml:space="preserve">1916.30</text>
<text class="ax" x="976.8" y="631" fill="#000" stroke="#000" textLength="32.5" lengthAdjust="spacingAndGlyphs" xml:space="preserve">1882.83</text>
<rect x="974" y="127" width="39" height="11" fill="#000" shape-rendering="crispEdges"/>
<text class="ax" x="976.8" y="136" fill="#fff" stroke="#fff" textLength="32.5" lengthAdjust="spacingAndGlyphs" xml:space="preserve">2400.00</text>
<rect x="974" y="181" width="39" height="11" fill="#000" shape-rendering="crispEdges"/>
<text class="ax" x="976.8" y="190" fill="#fff" stroke="#fff" textLength="32.5" lengthAdjust="spacingAndGlyphs" xml:space="preserve">2344.51</text>
<text class="ax" x="976.8" y="670" fill="#000" stroke="#000" textLength="27.3" lengthAdjust="spacingAndGlyphs" xml:space="preserve">100.00</text>
<rect x="974" y="682" width="29" height="11" fill="#ff0000" shape-rendering="crispEdges"/>
<text class="ax" x="976.8" y="691" fill="#fff" stroke="#fff" textLength="22.4" lengthAdjust="spacingAndGlyphs" xml:space="preserve">70.00</text>
<text class="ax" x="976.8" y="725" fill="#000" stroke="#000" textLength="22.4" lengthAdjust="spacingAndGlyphs" xml:space="preserve">30.00</text>
<text class="ax" x="976.8" y="745" fill="#000" stroke="#000" textLength="17.6" lengthAdjust="spacingAndGlyphs" xml:space="preserve">0.00</text>
<text class="ax" x="2.2" y="760" fill="#000" stroke="#000" textLength="49.2" lengthAdjust="spacingAndGlyphs" xml:space="preserve">17 Jan 2024</text>
<text class="ax" x="66.2" y="760" fill="#000" stroke="#000" textLength="49.8" lengthAdjust="spacingAndGlyphs" xml:space="preserve">29 Jan 2024</text>
<text class="ax" x="130.2" y="760" fill="#000" stroke="#000" textLength="47.2" lengthAdjust="spacingAndGlyphs" xml:space="preserve">8 Feb 2024</text>
<text class="ax" x="194.2" y="760" fill="#000" stroke="#000" textLength="52.3" lengthAdjust="spacingAndGlyphs" xml:space="preserve">20 Feb 2024</text>
<text class="ax" x="258.2" y="760" fill="#000" stroke="#000" textLength="46.8" lengthAdjust="spacingAndGlyphs" xml:space="preserve">1 Mar 2024</text>
<text class="ax" x="322.2" y="760" fill="#000" stroke="#000" textLength="51.8" lengthAdjust="spacingAndGlyphs" xml:space="preserve">13 Mar 2024</text>
<text class="ax" x="386.2" y="760" fill="#000" stroke="#000" textLength="51.6" lengthAdjust="spacingAndGlyphs" xml:space="preserve">25 Mar 2024</text>
<text class="ax" x="450.2" y="760" fill="#000" stroke="#000" textLength="45.6" lengthAdjust="spacingAndGlyphs" xml:space="preserve">5 Apr 2024</text>
<text class="ax" x="514.2" y="760" fill="#000" stroke="#000" textLength="51.5" lengthAdjust="spacingAndGlyphs" xml:space="preserve">17 Apr 2024</text>
<text class="ax" x="578.2" y="760" fill="#000" stroke="#000" textLength="51.2" lengthAdjust="spacingAndGlyphs" xml:space="preserve">29 Apr 2024</text>
<text class="ax" x="642.2" y="760" fill="#000" stroke="#000" textLength="50.3" lengthAdjust="spacingAndGlyphs" xml:space="preserve">9 May 2024</text>
<text class="ax" x="706.2" y="760" fill="#000" stroke="#000" textLength="54.6" lengthAdjust="spacingAndGlyphs" xml:space="preserve">21 May 2024</text>
<text class="ax" x="770.2" y="760" fill="#000" stroke="#000" textLength="54.8" lengthAdjust="spacingAndGlyphs" xml:space="preserve">31 May 2024</text>
<text class="ax" x="6" y="13" fill="#000" stroke="#000" textLength="123.5" lengthAdjust="spacingAndGlyphs" xml:space="preserve">XAUUSD, Daily:  Gold (Spot)</text>
<text class="ax" x="5.5" y="674" fill="#000" stroke="#000" textLength="57.5" lengthAdjust="spacingAndGlyphs" xml:space="preserve">RSI(14) 49.98</text>
<text transform="scale(1.1,1)" x="447.46 480.14 515.29 551.64 586.83 618.29 652.75 666.01 681.81 695.97 726.33 754.55 769.08 783.28" y="532.63" font-family="Liberation Sans, sans-serif" font-weight="bold" font-size="45.98" fill="#000" stroke="#000" stroke-width="2.74" stroke-linejoin="miter" text-rendering="geometricPrecision" xml:space="preserve" >XAUUSD - daily</text>
<text transform="scale(1.15,1)" x="503.34 518.80 534.27 549.74 564.97 572.93 588.40" y="109.44" font-family="Liberation Sans, sans-serif" font-weight="bold" font-size="26.14" fill="#000" stroke="#000" stroke-width="1.12" stroke-linejoin="miter" text-rendering="geometricPrecision" xml:space="preserve" >2400.00</text>
<text transform="scale(1.1,1)" x="453.49 465.01 475.73 481.73 494.57 510.47" y="289.30" font-family="Liberation Sans, sans-serif" font-weight="bold" font-size="18.62" fill="#b22222" stroke="#b22222" stroke-width="0.80" stroke-linejoin="miter" text-rendering="geometricPrecision" xml:space="preserve" >21-SMA</text>
<text transform="scale(1.1,1)" x="533.76 545.29 556.00 562.00 574.84 590.75" y="327.80" font-family="Liberation Sans, sans-serif" font-weight="bold" font-size="18.62" fill="#0000ff" stroke="#0000ff" stroke-width="0.80" stroke-linejoin="miter" text-rendering="geometricPrecision" xml:space="preserve" >50-SMA</text>
<text transform="scale(1.1,1)" x="621.04 632.56 644.08 654.79 660.79 673.64 689.54" y="382.90" font-family="Liberation Sans, sans-serif" font-weight="bold" font-size="18.62" fill="#008000" stroke="#008000" stroke-width="0.80" stroke-linejoin="miter" text-rendering="geometricPrecision" xml:space="preserve" >100-SMA</text>
<text transform="scale(1.1,1)" x="336.81 350.84 362.07 368.11 379.78 387.01 392.57 403.61 414.83 420.32 433.50 440.65 448.69 459.70 471.22 483.40 490.41 502.15 508.38 514.40 525.92 537.95 549.48" y="733.30" font-family="Liberation Sans, sans-serif" font-weight="bold" font-size="18.62" fill="#1e90ff" stroke="#1e90ff" stroke-width="0.80" stroke-linejoin="miter" text-rendering="geometricPrecision" xml:space="preserve" >Relative Strength Index</text>
<text transform="scale(1.1,1)" x="707.68 717.61 727.37 736.88 741.32 746.63 751.22 763.54 772.89 782.34 788.72 798.48 808.24 818.01 827.77 838.09" y="680.26" font-family="Liberation Sans, sans-serif" font-weight="bold" font-size="15.78" fill="#ff0000" stroke="#ff0000" stroke-width="0.68" stroke-linejoin="miter" text-rendering="geometricPrecision" xml:space="preserve" >&gt;70 - Overbought</text>
</svg>
</body></html>
